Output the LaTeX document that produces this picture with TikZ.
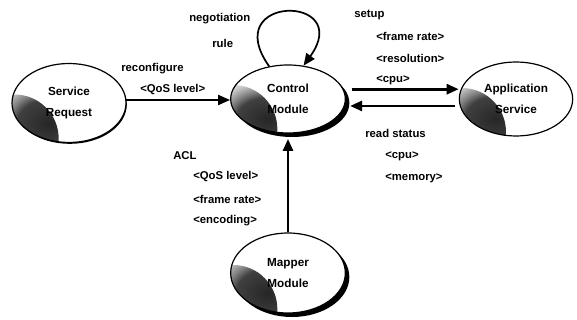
\documentclass[tikz,border=0pt]{standalone}
\usepackage{fontspec}
\setmainfont{Liberation Sans}
\usetikzlibrary{shapes.geometric,arrows.meta,shadows}
\pgfdeclareradialshading{stip}{\pgfpoint{0bp}{0bp}}{%
  color(0bp)=(black!85); color(10bp)=(black!75); color(13bp)=(black!50);
  color(17bp)=(black!22); color(21bp)=(black!7); color(24bp)=(white); color(50bp)=(white)}
\begin{document}
\begin{tikzpicture}[x=0.75pt,y=-0.75pt,
  bub/.style 2 args={ellipse, draw, line width=0.9pt, fill=white, inner sep=0pt, align=center,
    minimum width=#1pt, minimum height=#2pt,
    font=\bfseries\fontsize{8.8}{15.75}\selectfont,
    path picture={\shade[shading=stip]
      ([xshift=2pt,yshift=3pt]path picture bounding box.south west) circle (33pt);}},
  shad/.style={drop shadow={shadow xshift=3pt,shadow yshift=-3pt,opacity=1,fill=black}},
  thinshad/.style={drop shadow={shadow xshift=0.6pt,shadow yshift=-1pt,opacity=1,fill=black}},
  lab/.style={anchor=west, inner sep=0pt, font=\bfseries\fontsize{8.5}{10}\selectfont},
  tip/.style={-{Triangle[length=9pt,width=7.5pt]}},
  arr/.style={line width=2pt, tip},
  thinarr/.style={line width=1.5pt, tip}]
\useasboundingbox (0,0) rectangle (577,320);
% nodes
\node[bub={85.5}{59.25}, thinshad] (sr) at (69,103) {Service\\Request};
\node[bub={86}{51}, shad] (cm) at (288,99) {Control\\Module};
\node[bub={85}{55.5}] (as) at (516,99) {Application\\Service};
\node[bub={86}{60}, shad] (mm) at (288,273) {Mapper\\Module};
% labels
\node[lab] (neg) at (189,19) {negotiation};
\node[lab] (rul) at (212,43) {rule};
\node[lab] (rec) at (121,69) {reconfigure};
\node[lab] (qa) at (140,90) {<QoS level>};
\node[lab] (su) at (354,15) {setup};
\node[lab] (sa) at (376,36) {<frame rate>};
\node[lab] (sb) at (376,58) {<resolution>};
\node[lab] (sc) at (376,80) {<cpu>};
\node[lab] (rs) at (365,133) {read status};
\node[lab] (ra) at (385,156) {<cpu>};
\node[lab] (rb) at (385,178) {<memory>};
\node[lab] (acl) at (173,156) {ACL};
\node[lab] (aa) at (193,177) {<QoS level>};
\node[lab] (ab) at (193,199) {<frame rate>};
\node[lab] (ac) at (193,221) {<encoding>};
% connectors
\draw[thinarr] (sr.3) -- (cm.west |- sr.3);
\draw[arr] ([xshift=6pt]cm.10) -- (as.west |- cm.10);
\draw[arr] ([xshift=-3pt]as.west |- cm.-7) -- ([xshift=4pt]cm.-7);
\draw[arr] (mm.north) -- ([yshift=-4pt]cm.south);
\draw[line width=1.3pt, tip] (cm.120) .. controls (218,-6) and (355,-6) .. (cm.65);
\end{tikzpicture}
\end{document}
